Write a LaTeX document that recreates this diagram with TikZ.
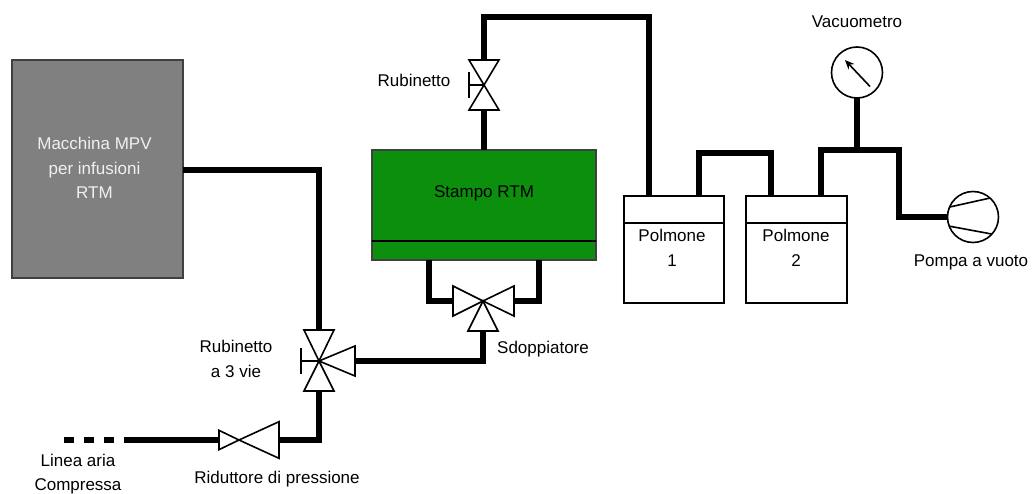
\documentclass[tikz,border=0pt]{standalone}
\usepackage{fontspec}
\setmainfont{Liberation Sans}
\usepackage{xcolor}
\usetikzlibrary{arrows.meta, calc}
\definecolor{mouldgreen}{RGB}{12,143,12}
\definecolor{machinegray}{RGB}{128,128,128}
\tikzset{
  pipe/.style={line width=3.9pt, line join=miter},
  airline/.style={line width=3.9pt, dash pattern=on 7.5pt off 7.5pt},
  valve/.style={draw, fill=white, line width=1.2pt, line join=miter},
  handle/.style={line width=1.2pt},
  tank/.style={draw, line width=1.2pt, anchor=north west, inner sep=0pt, outer sep=0pt},
  block/.style={draw=black!75, line width=0.8pt, anchor=north west, inner sep=0pt, outer sep=0pt},
  gauge/.style={draw, fill=white, circle, line width=1.2pt, minimum size=38.25pt, inner sep=0pt, outer sep=0pt},
  label/.style={align=center, inner sep=0pt}
}
\newcommand{\valvewing}[3]{\draw[valve] (#1) -- ($(#2)!#3!90:(#1)$) -- ($(#2)!#3!-90:(#1)$) -- cycle;}
\newcommand{\valvehandle}[2]{\draw[handle] (#1) -- (#2) ($(#2)+(0,-13)$) -- ($(#2)+(0,13)$);}
\begin{document}
\begin{tikzpicture}[x=0.75pt, y=-0.75pt, every node/.style={font=\fontsize{12.75}{18.4}\selectfont}]
  \useasboundingbox (0,0) rectangle (1032,493);

  % Boxes
  \node[block, fill=machinegray, minimum width=128.25pt, minimum height=163.5pt] (macchina) at (12,60) {};
  \node[label, text=white!94!black] (macchinatxt) at (94.5,168) {Macchina MPV\\per infusioni\\RTM};
  \node[block, fill=mouldgreen, minimum width=168pt, minimum height=82.5pt] (stampo) at (372,150) {};
  \draw[handle] (372,241) -- (596,241);
  \node[label] (stampotxt) at (484,193) {Stampo RTM};
  \node[tank, minimum width=75pt, minimum height=80.25pt] (polmoneA) at (624,196) {};
  \draw[handle] (624,223) -- (724,223);
  \node[label] (polmoneAtxt) at (672,248) {Polmone\\1};
  \node[tank, minimum width=75.75pt, minimum height=80.25pt] (polmoneB) at (746,196) {};
  \draw[handle] (746,223) -- (847,223);
  \node[label] (polmoneBtxt) at (796,248) {Polmone\\2};

  % Gauge and pump
  \node[gauge] (vacuometro) at (857,72.5) {};
  \node[gauge] (pompa) at (973,217) {};
  \draw[handle, -{Stealth[length=7pt, width=6pt]}] ($(vacuometro)+(13,14)$) -- ($(vacuometro)+(-12,-12.5)$);
  \draw[handle] (pompa.157) -- (pompa.48);
  \draw[handle] (pompa.201) -- (pompa.318);

  % Valve centres and wing bases
  \coordinate (tre) at (319,361);
  \coordinate (treN) at (319,330);
  \coordinate (treS) at (319,391);
  \coordinate (treE) at (355,361);
  \coordinate (treW) at (301,361);
  \coordinate (sdop) at (483,301);
  \coordinate (sdopW) at (453,301);
  \coordinate (sdopE) at (514,301);
  \coordinate (sdopS) at (483,331);
  \coordinate (rub) at (484,85);
  \coordinate (rubN) at (484,60);
  \coordinate (rubS) at (484,110);
  \coordinate (rubW) at (469,85);
  \coordinate (rid) at (239,440);
  \coordinate (ridW) at (219,440);
  \coordinate (ridE) at (279,440);
  \coordinate (ariafine) at (130,440);
  \coordinate (ariainizio) at (64,440);

  % Pipes
  \draw[pipe] (macchina.east |- 0,170) -| (treN);
  \draw[pipe] (treE) -| (sdopS);
  \draw[pipe] (treS) |- (ridE);
  \draw[pipe] (ridW) -- (ariafine);
  \draw[airline] (ariainizio) -- (ariafine);
  \draw[pipe] (sdopW) -| (429,260);
  \draw[pipe] (sdopE) -| (539,260);
  \draw[pipe] (rubS) -- (stampo.north -| rubS);
  \draw[pipe] (rubN) |- (649,17) -- (649,196);
  \draw[pipe] (699,196) |- (771,153) -- (771,196);
  \draw[pipe] (821,196) |- (899,150) |- (pompa.west);
  \draw[pipe] (vacuometro.south) -- (857,150);

  % Valves
  \valvewing{tre}{treN}{11.25pt}
  \valvewing{tre}{treS}{11.25pt}
  \valvewing{tre}{treE}{11.25pt}
  \valvehandle{tre}{treW}
  \valvewing{sdop}{sdopW}{11.25pt}
  \valvewing{sdop}{sdopE}{11.25pt}
  \valvewing{sdop}{sdopS}{11.25pt}
  \valvewing{rub}{rubN}{11.25pt}
  \valvewing{rub}{rubS}{11.25pt}
  \valvehandle{rub}{rubW}
  \valvewing{rid}{ridW}{7.25pt}
  \valvewing{rid}{ridE}{13.75pt}

  % Labels
  \node[label] (vacuometrotxt) at (857,22) {Vacuometro};
  \node[label] (pompatxt) at (971,262) {Pompa a vuoto};
  \node[label] (rubinettotxt) at (414,80) {Rubinetto};
  \node[label] (sdoppiatoretxt) at (543,349) {Sdoppiatore};
  \node[label] (trevietxt) at (236,359) {Rubinetto\\a 3 vie};
  \node[label] (riduttoretxt) at (277,479) {Riduttore di pressione};
  \node[label] (ariatxt) at (78,474) {Linea aria\\Compressa};
\end{tikzpicture}
\end{document}
